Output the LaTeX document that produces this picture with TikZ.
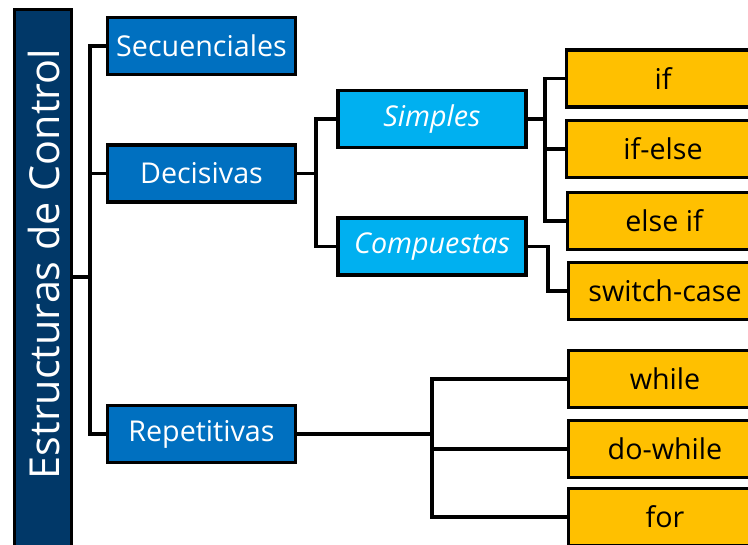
\documentclass[tikz,border=0pt]{standalone}
\usepackage{fontspec}
\setmainfont{Open Sans}
\definecolor{navy}{RGB}{1,56,104}
\definecolor{blueA}{RGB}{0,112,192}
\definecolor{blueB}{RGB}{0,176,240}
\definecolor{gold}{RGB}{255,192,0}
\begin{document}
\begin{tikzpicture}[x=0.75pt,y=-0.75pt,
  conn/.style={draw=black,line width=2.4pt,line join=miter},
  basebox/.style={draw=black,line width=2.4pt,inner sep=0pt,minimum width=141pt,minimum height=42.75pt},
  lvlone/.style={basebox,fill=blueA,text=white,font=\fontsize{21.5}{24}\selectfont},
  lvltwo/.style={basebox,fill=blueB,text=white,font=\fontsize{21.5}{24}\selectfont\itshape},
  leafbox/.style={basebox,fill=gold,text=black,minimum width=145pt,font=\fontsize{21.5}{24}\selectfont},
  rootbox/.style={draw=black,line width=2.4pt,fill=navy,minimum width=42.75pt,minimum height=412pt,inner sep=0pt},
  roottext/.style={rotate=90,text=white,inner sep=0pt,font=\fontsize{31}{36}\selectfont}]
\useasboundingbox (0,0) rectangle (748,544);
\clip (0,0) rectangle (748,544);
% root
\node[rootbox] (root) at (43,284.5) {};
\node[roottext] (rootlabel) at (44,264) {Estructuras de Control};
% level 1
\node[lvlone] (sec) at (201.5,46) {Secuenciales};
\node[lvlone] (dec) at (201.5,173.5) {Decisivas};
\node[lvlone] (rep) at (201.5,434) {Repetitivas};
% level 2
\node[lvltwo] (sim) at (432,119) {Simples};
\node[lvltwo] (comp) at (432,246.5) {Compuestas};
% leaves
\node[leafbox] (if) at (663,78.5) {if};
\node[leafbox] (ifelse) at (663,149) {if-else};
\node[leafbox] (elseif) at (664,221) {else if};
\node[leafbox] (sw) at (665,291) {switch-case};
\node[leafbox] (wh) at (665,379) {while};
\node[leafbox] (dowh) at (665,449) {do-while};
\node[leafbox] (for) at (665,517) {for};
% trunks
\coordinate (t0) at (90,277);
\coordinate (t1) at (316,173.5);
\coordinate (t2) at (545,119);
\coordinate (t3) at (548,246.5);
\coordinate (t4) at (432,434);
% connectors
\draw[conn] (root.east |- t0) -- (t0);
\draw[conn] (sec.west) -| (t0);
\draw[conn] (dec.west) -| (t0);
\draw[conn] (rep.west) -| (t0);
\draw[conn] (dec.east) -- (t1);
\draw[conn] (sim.west) -| (t1);
\draw[conn] (comp.west) -| (t1);
\draw[conn] (sim.east) -- (t2);
\draw[conn] (if.west) -| (t2);
\draw[conn] (ifelse.west) -| (t2);
\draw[conn] (elseif.west) -| (t2);
\draw[conn] (comp.east) -- (t3) |- (sw.west);
\draw[conn] (rep.east) -- (t4);
\draw[conn] (wh.west) -| (t4);
\draw[conn] (dowh.west) -| (t4);
\draw[conn] (for.west) -| (t4);
\end{tikzpicture}
\end{document}
